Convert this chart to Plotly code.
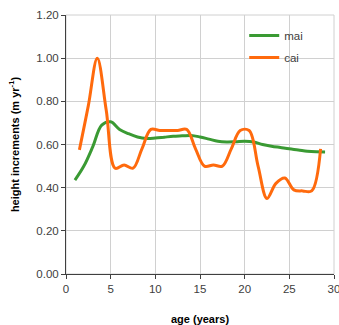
import plotly.graph_objects as go

mai_age = list(range(1, 30))
mai = [0.435, 0.50, 0.59, 0.69, 0.705, 0.67, 0.65, 0.635, 0.628, 0.630, 0.634, 0.638, 0.640,
       0.642, 0.635, 0.625, 0.615, 0.612, 0.613, 0.615, 0.612, 0.600, 0.592, 0.586, 0.580,
       0.575, 0.569, 0.566, 0.565]

cai_age = [a + 0.5 for a in range(1, 29)]
cai = [0.575, 0.78, 1.00, 0.76, 0.49, 0.505, 0.49, 0.58, 0.67, 0.665, 0.665, 0.665, 0.67,
       0.58, 0.50, 0.505, 0.50, 0.58, 0.665, 0.665, 0.50, 0.35, 0.42, 0.445, 0.39, 0.385,
       0.385, 0.58]

x_ticks = [0, 5, 10, 15, 20, 25, 30]
y_ticks = [0, 0.2, 0.4, 0.6, 0.8, 1.0, 1.2]

fig = go.Figure()
fig.add_trace(go.Scatter(x=mai_age, y=mai, mode="lines", name="mai", legendgroup="a",
                         line=dict(color="#3a9a33", width=3, shape="spline", smoothing=1.0)))
fig.add_trace(go.Scatter(x=cai_age, y=cai, mode="lines", name="cai", legendgroup="b",
                         line=dict(color="#ff6a0d", width=3, shape="spline", smoothing=1.0)))

fig.update_layout(
    width=339, height=325,
    margin=dict(l=66, r=5, t=15, b=51),
    paper_bgcolor="white", plot_bgcolor="white",
    font=dict(family="Liberation Sans, Arial, sans-serif", size=11.5, color="#404040"),
    showlegend=True,
    legend=dict(x=0.665, y=0.977, xanchor="left", yanchor="top", bgcolor="rgba(0,0,0,0)",
                traceorder="grouped", tracegroupgap=3, itemwidth=30,
                font=dict(size=11.5, color="#404040")),
    xaxis=dict(range=[0, 30], tickvals=x_ticks, ticktext=[str(t) for t in x_ticks],
               showgrid=True, gridcolor="#d0d0d0", gridwidth=1, automargin=False,
               ticklabeloverflow="allow",
               showline=True, linecolor="#404040", linewidth=1,
               ticks="outside", ticklen=4, tickcolor="#404040", zeroline=False,
               title=dict(text="<b>age (years)</b>", standoff=26,
                          font=dict(size=11, color="black"))),
    yaxis=dict(range=[0, 1.2], tickvals=y_ticks, ticktext=[f"{t:.2f}" for t in y_ticks],
               showgrid=True, gridcolor="#d0d0d0", gridwidth=1, automargin=False,
               showline=True, linecolor="#404040", linewidth=1,
               ticks="outside", ticklen=4, tickcolor="#404040", zeroline=False,
               title=dict(text="<b>height increments (m yr<sup>-1</sup>)</b>", standoff=14,
                          font=dict(size=11, color="black"))),
)
fig.add_shape(type="rect", xref="paper", yref="paper", x0=0, y0=0, x1=1, y1=1,
              line=dict(color="#d0d0d0", width=1), layer="below")

fig.write_html("out.html")
